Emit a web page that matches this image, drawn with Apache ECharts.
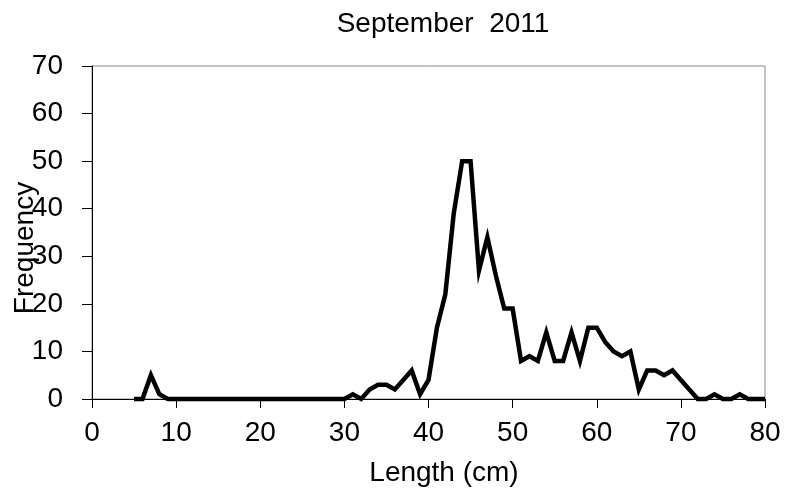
<!DOCTYPE html>
<html>
<head>
<meta charset="utf-8">
<script src="https://cdn.jsdelivr.net/npm/echarts@6/dist/echarts.min.js"></script>
<style>html,body{margin:0;padding:0;background:#fff}#c{width:785px;height:495px}</style>
</head>
<body>
<div id="c"></div>
<script>
var lengths = [5,6,7,8,9,10,11,12,13,14,15,16,17,18,19,20,21,22,23,24,25,26,27,28,29,30,
  31,32,33,34,35,36,37,38,39,40,41,42,43,44,45,46,47,48,49,50,
  51,52,53,54,55,56,57,58,59,60,61,62,63,64,65,66,67,68,69,70,
  71,72,73,74,75,76,77,78,79,80];
var frequency = [0,0,5,1,0,0,0,0,0,0,0,0,0,0,0,0,0,0,0,0,0,0,0,0,0,0,
  1,0,2,3,3,2,4,6,1,4,15,22,39,50,50,27,34,26,19,19,
  8,9,8,14,8,8,14,8,15,15,12,10,9,10,2,6,6,5,6,4,
  2,0,0,1,0,0,1,0,0,0];
var titleText = 'September  2011';
var xName = 'Length (cm)';
var yName = 'Frequency';

var chart = echarts.init(document.getElementById('c'));
var font = 'Liberation Sans, Arial, sans-serif';
chart.setOption({
  animation: false,
  backgroundColor: '#fff',
  title: {
    text: titleText, left: 438, top: 5, textAlign: 'center',
    textStyle: {fontFamily: font, fontSize: 28, fontWeight: 'normal', color: '#000'}
  },
  graphic: [
    {type: 'text', x: 444, y: 473, style: {text: xName, font: '28px ' + font, fill: '#000', align: 'center', verticalAlign: 'middle'}},
    {type: 'text', x: 25, y: 248, rotation: Math.PI / 2, style: {text: yName, font: '28px ' + font, fill: '#000', align: 'center', verticalAlign: 'middle'}}
  ],
  grid: {left: 92, right: 20, top: 66, bottom: 96, show: true, borderColor: '#888', borderWidth: 1,
    backgroundColor: 'transparent', containLabel: false, outerBoundsMode: 'none'},
  xAxis: {
    type: 'value', min: 0, max: 80, interval: 10,
    axisLine: {show: true, lineStyle: {color: '#000', width: 1}},
    axisTick: {show: true, inside: false, length: 9, lineStyle: {color: '#000'}},
    axisLabel: {fontFamily: font, fontSize: 28, color: '#000', margin: 20},
    splitLine: {show: false}
  },
  yAxis: {
    type: 'value', min: 0, max: 70, interval: 10,
    axisLine: {show: true, lineStyle: {color: '#000', width: 1}},
    axisTick: {show: true, inside: false, length: 10, lineStyle: {color: '#000'}},
    axisLabel: {fontFamily: font, fontSize: 28, color: '#000', margin: 29},
    splitLine: {show: false}
  },
  series: [{
    type: 'line',
    data: lengths.map(function (l, i) { return [l, frequency[i]]; }),
    showSymbol: false, symbol: 'none',
    lineStyle: {color: '#000', width: 4.5, join: 'miter'},
    clip: false
  }]
});
</script>
</body>
</html>
